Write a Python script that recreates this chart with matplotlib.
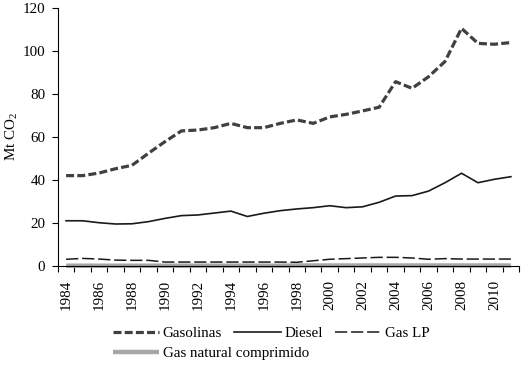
import matplotlib
matplotlib.use("Agg")
import matplotlib.pyplot as plt

plt.rcParams['font.family'] = ['Liberation Serif', 'DejaVu Serif']
plt.rcParams['mathtext.fontset'] = 'custom'
plt.rcParams['mathtext.rm'] = 'Liberation Serif'

years = list(range(1984, 2012))
gasolinas = [41.9, 41.9, 43.1, 45.1, 46.7, 52.3, 57.7, 62.7, 63.1, 64.2,
             66.2, 64.2, 64.2, 66.2, 67.8, 66.2, 69.2, 70.4, 72.0, 73.7,
             85.6, 82.5, 87.9, 95.0, 110.4, 103.4, 103.0, 103.8]
diesel = [20.9, 20.9, 20.0, 19.4, 19.5, 20.5, 22.0, 23.3, 23.6, 24.5,
          25.4, 22.9, 24.4, 25.6, 26.4, 27.0, 27.9, 27.0, 27.4, 29.5,
          32.4, 32.6, 34.7, 38.6, 43.0, 38.6, 40.2, 41.4]
gas_lp = [3.0, 3.4, 3.1, 2.6, 2.5, 2.5, 1.7, 1.7, 1.7, 1.7,
          1.7, 1.7, 1.7, 1.7, 1.6, 2.3, 3.0, 3.3, 3.6, 3.9,
          3.9, 3.6, 3.0, 3.3, 3.1, 3.1, 3.1, 3.1]
gnc = [0.0] * 14 + [0.1] * 14
tick_years = list(range(1984, 2011, 2))

x = list(range(len(years)))
fs = 10.8

fig = plt.figure(figsize=(5.26, 3.66), dpi=100)
ax = fig.add_axes([0.110, 0.274, 0.877, 0.705])

l_gnc, = ax.plot(x, gnc, color='#a6a6a6', lw=3.2, clip_on=False,
                 solid_capstyle='butt', label='Gas natural comprimido')
l_lp, = ax.plot(x, gas_lp, color='#1a1a1a', lw=1.1, dashes=(8, 2.5), label='Gas LP')
l_die, = ax.plot(x, diesel, color='#1a1a1a', lw=1.2, label='Diesel')
l_gas, = ax.plot(x, gasolinas, color='#404040', lw=2.3, dashes=(2.5, 1.0),
                 label='Gasolinas')

ax.set_xlim(-0.5, len(years) - 0.5)
ax.set_ylim(0, 120)
ax.set_yticks(range(0, 121, 20))
ax.set_xticks([i - 0.5 for i in range(len(years) + 1)])
ax.set_xticklabels([])
ax.set_xticks([years.index(y) for y in tick_years], minor=True)
ax.set_xticklabels([str(y) for y in tick_years], minor=True, rotation=90, fontsize=fs)
ax.tick_params(axis='x', which='major', direction='out', length=4, width=0.8)
ax.tick_params(axis='x', which='minor', length=0, pad=10)
ax.tick_params(axis='y', direction='out', length=4, width=0.8, labelsize=fs, pad=5)

for s in ['top', 'right']:
    ax.spines[s].set_visible(False)
for s in ['left', 'bottom']:
    ax.spines[s].set_linewidth(0.8)

ax.set_ylabel(r'Mt CO$_\mathregular{2}$', fontsize=fs)
ax.yaxis.set_label_coords(-0.082, 0.5)

leg1 = fig.legend([l_gas, l_die, l_lp], ['Gasolinas', 'Diesel', 'Gas LP'],
                  loc='center left', bbox_to_anchor=(0.214, 0.09), ncol=3,
                  frameon=False, fontsize=fs, handlelength=3.1, handletextpad=0.25,
                  columnspacing=0.8, borderpad=0, borderaxespad=0)
leg2 = fig.legend([l_gnc], ['Gas natural comprimido'],
                  loc='center left', bbox_to_anchor=(0.214, 0.035),
                  frameon=False, fontsize=fs, handlelength=3.1, handletextpad=0.25,
                  borderpad=0, borderaxespad=0)

fig.savefig('out.png', dpi=100)
